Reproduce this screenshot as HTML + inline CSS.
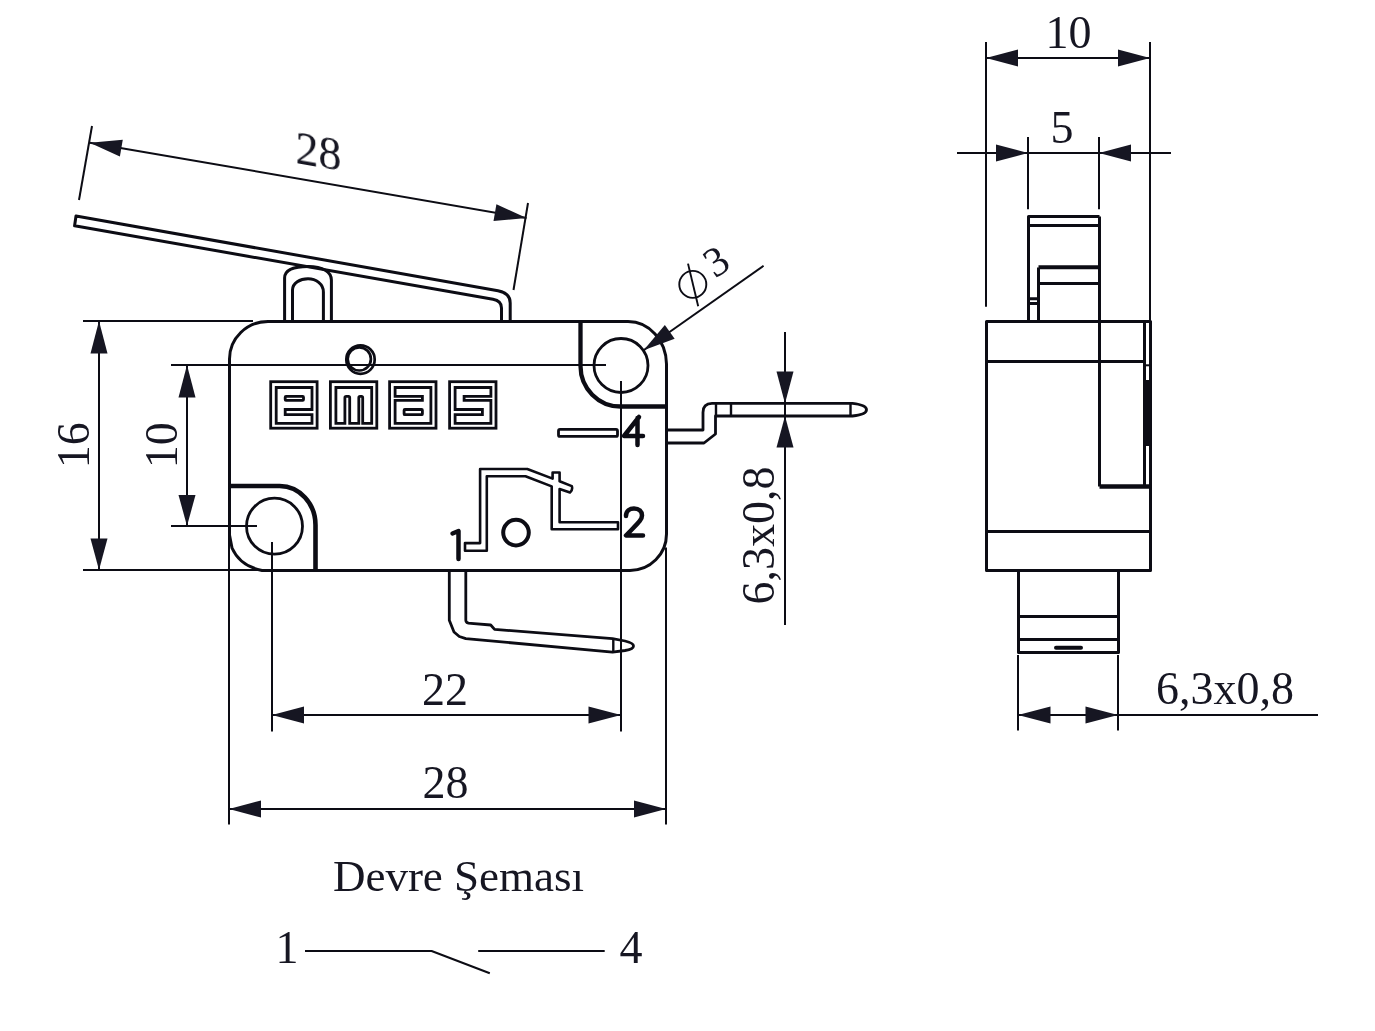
<!DOCTYPE html>
<html><head><meta charset="utf-8">
<style>
html,body{margin:0;padding:0;background:#fff;overflow:hidden;}
svg{display:block;}
</style></head><body>
<svg width="1375" height="1031" viewBox="0 0 1375 1031">
<rect width="1375" height="1031" fill="#fff"/>
<g fill="none" stroke="#0c0c14" stroke-linejoin="round">
<g stroke-width="3">
<path d="M268 321.5 L628 321.5 A38.5 43 0 0 1 666.5 364 L666.5 534 A36.5 36.5 0 0 1 630 570.5 L262 570.5 Q240 566 232 548 L229.5 535 L229.5 359 A38.5 37.5 0 0 1 268 321.5 Z"/>
<circle cx="621" cy="365.5" r="27" stroke-width="2.8"/>
<circle cx="274.5" cy="526.2" r="28" stroke-width="2.8"/>
<circle cx="359.3" cy="358.9" r="11.6" stroke-width="2.7"/><circle cx="360.5" cy="359.6" r="14.2" stroke-width="2.7"/>
<path d="M580.5 321.5 L580.5 366 A40 40.5 0 0 0 620.5 406.5 L666.5 406.5" stroke-width="4.3"/>
<path d="M229.5 486 L279.7 486 A36 39 0 0 1 315.5 525 L315.5 570.5" stroke-width="4.6"/>
<path d="M284.6 321.5 V278 C284.6 270 293 266.5 308 266.5 C323 266.5 331.4 272 331.4 280 V321.5"/>
<path d="M292.5 321.5 V290 C292.5 283 300 278.7 308 278.7 C316 278.7 323.4 284 323.4 292 V321.5"/>
<path d="M510.2 321.5 V303 Q510.2 292.9 498 290.7 L76 216 L74.6 225.8 L493 299.3 Q501.5 300.8 501.5 308 V321.5"/>
<path d="M666.5 430 L703 430 L703 412.5 Q703 403.4 712 403.4 L852.5 403.4 Q866.5 405 866.5 409.7 Q866.5 414.5 852.5 416 L715.5 416 L715.5 434 L704 443 L666.5 443" stroke-width="2.8"/>
<path d="M716 403.4 V416 M731 403.4 V416 M850.5 403.4 V416" stroke-width="2.4"/>
<path d="M449.3 570.5 V620.2 L454 632 L459.3 636.5 L465.8 638.6 L612.5 652.2 L625 650.5 Q633.5 649 633.5 645.9 Q633.5 643 625 641 L612.5 638.6 L494.6 629.4 L490.7 625 L471 623.4 Q465.8 623.4 465.8 620.2 V570.5" stroke-width="2.8"/>
<path d="M613.3 638.6 V652.2" stroke-width="2.4"/>
<g stroke-width="2.8" stroke-linejoin="miter">
<g transform="translate(270.7 381.7)"><rect x="0" y="0" width="46.4" height="46.5"/><path d="M41.3 5.8 H5.5 V41.7 H41.3 V33 H14.5 V27.8 H41.3 Z"/><rect x="14.5" y="14.7" width="18.3" height="3.9" rx="0.8"/></g>
<g transform="translate(330.4 381.7)"><rect x="0" y="0" width="46.4" height="46.5"/><path d="M5.5 5.8 H41.3 V41.7 H32.3 V16 Q32.3 14.7 31 14.7 H29.7 Q28.4 14.7 28.4 16 V41.7 H19.3 V16 Q19.3 14.7 18 14.7 H15.8 Q14.5 14.7 14.5 16 V41.7 H5.5 Z"/></g>
<g transform="translate(389.6 381.7)"><rect x="0" y="0" width="46.4" height="46.5"/><path d="M5.5 5.8 H41.3 V41.7 H5.5 V18.6 H32.8 V14.7 H5.5 Z"/><rect x="14.5" y="27.8" width="18.3" height="5.2" rx="0.8"/></g>
<g transform="translate(449.6 381.7)"><rect x="0" y="0" width="46.4" height="46.5"/><path d="M5.5 5.8 H41.3 V14.7 H14.5 V18.6 H41.3 V41.7 H5.5 V33 H32.8 V27.8 H5.5 Z"/></g>
</g>
<rect x="558.5" y="429.4" width="59" height="7" rx="1.5" stroke-width="2.8"/>
<path d="M465 543.1 L480.1 543.1 L480.1 469 L527.3 469 L552.6 478.6 L552.6 472.5 L559.6 472.5 L559.6 481.2 L571.8 486.1 Q573 490 570 492.5 L559.6 489 L559.6 522.2 L618 522.2 L618 529.2 L551.7 529.2 L551.7 486.4 L525.5 476.3 L486.8 476.3 L486.8 550.7 L465 550.7 Z" stroke-width="2.6"/>
<circle cx="516" cy="532.6" r="12.8" stroke-width="4"/>
<g stroke-width="4.5" stroke-linecap="round">
<path d="M452.5 533.5 L458.5 531 L458.5 559"/>
<path d="M626 516 C626 510.5 630 508.5 634 508.5 C639 508.5 642 511.5 642 515.5 C642 520 638 523 626 535.5 L643 535.5"/>
<path d="M639 417 L624 436 L643 436 M637.5 418 L637.5 445"/>
</g>
</g>
<g stroke-width="3">
<path d="M986.5 321.5 H1150.5 V570.5 H986.5 Z"/>
<path d="M986.5 361.5 H1144.5 M986.5 531.5 H1150.5 M1144.5 321.5 V486.5 M1150.5 321.5 V470"/>
<path d="M1099.5 216.5 V486.5"/>
<path d="M1099.5 486.5 H1150.5" stroke-width="4.5"/>
<path d="M1144.5 365.3 H1150.5" stroke-width="2"/>
<rect x="1144.5" y="380" width="5.5" height="66" fill="#0c0c14" stroke="none"/>
<path d="M1028.5 321.5 V216.5 H1099.5 M1028.5 225.5 H1099.5 M1038.5 321.5 V267.5 M1038.5 283.5 H1099.5 M1028.5 298.8 H1038.5 M1028.5 303.6 H1038.5"/>
<path d="M1038.5 267.3 H1099.5" stroke-width="4"/>
<path d="M1018.5 570.5 V652.5 H1118.5 V570.5 M1018.5 616.5 H1118.5 M1018.5 639.5 H1118.5"/>
<path d="M1056 647.8 H1081" stroke-width="4" stroke-linecap="round"/>
</g>
<g stroke-width="2">
<path d="M92 126 L79 200"/>
<path d="M528 203 L513.5 290"/>
<path d="M89.8 142.7 L526.5 218"/>
<path d="M83 321 L253 321"/>
<path d="M83 570 L262 570"/>
<path d="M99 321 L99 570"/>
<path d="M171 365 L606 365"/>
<path d="M171 526 L257 526"/>
<path d="M187 365 L187 526"/>
<path d="M272 542 L272 731.5"/>
<path d="M621 381 L621 731.5"/>
<path d="M272 715 L621 715"/>
<path d="M229 500 L229 824.5"/>
<path d="M666 547.5 L666 824.5"/>
<path d="M229 809 L666 809"/>
<path d="M785 332 L785 625"/>
<path d="M763.6 265.7 L643.6 350.3"/>
<path d="M986 42 L986 306.8"/>
<path d="M1150 42 L1150 321"/>
<path d="M986 58 L1150 58"/>
<path d="M1028 137 L1028 209.2"/>
<path d="M1099 137 L1099 209.2"/>
<path d="M957 153 L1171 153"/>
<path d="M1018 655 L1018 730.6"/>
<path d="M1118 655 L1118 730.6"/>
<path d="M1018 715 L1318 715"/>
<path d="M305 951 L431.6 951 L489.8 973.2"/>
<path d="M478.2 951 L604.7 951"/>
<circle cx="692.8" cy="284.4" r="13.5" stroke-width="1.9"/>
<path d="M688 263.6 L698.2 306.3" stroke-width="1.9"/>
</g>
</g>
<g fill="#161622" stroke="none">
<path d="M89.8 142.7 L119.89 156.51 L122.78 139.76 Z"/>
<path d="M526.5 218 L496.41 204.19 L493.52 220.94 Z"/>
<path d="M99 321 L90.5 353.5 L107.5 353.5 Z"/>
<path d="M99 570 L107.5 538.6 L90.5 538.6 Z"/>
<path d="M187 365 L178.5 397.5 L195.5 397.5 Z"/>
<path d="M187 526 L195.5 495 L178.5 495 Z"/>
<path d="M272 715 L304 723.5 L304 706.5 Z"/>
<path d="M621 715 L588.5 706.5 L588.5 723.5 Z"/>
<path d="M229 809 L261 817.5 L261 800.5 Z"/>
<path d="M666 809 L634 800.5 L634 817.5 Z"/>
<path d="M785 403.4 L793.5 371.5 L776.5 371.5 Z"/>
<path d="M785 416 L776.5 447.4 L793.5 447.4 Z"/>
<path d="M643.6 350.3 L674.65 338.81 L664.86 324.91 Z"/>
<path d="M986 58 L1018 66.5 L1018 49.5 Z"/>
<path d="M1150 58 L1118 49.5 L1118 66.5 Z"/>
<path d="M1028 153 L996 144.5 L996 161.5 Z"/>
<path d="M1099 153 L1131 161.5 L1131 144.5 Z"/>
<path d="M1018 715 L1050.5 723.5 L1050.5 706.5 Z"/>
<path d="M1118 715 L1085.5 706.5 L1085.5 723.5 Z"/>
</g>
<g fill="#161622" stroke="none" font-family="Liberation Serif" font-size="46" opacity="0.999">
<text x="445" y="704.5" text-anchor="middle">22</text>
<text x="445.5" y="798" text-anchor="middle">28</text>
<text x="1068.5" y="48" text-anchor="middle">10</text>
<text x="1062" y="143" text-anchor="middle">5</text>
<text x="1225" y="704" text-anchor="middle">6,3x0,8</text>
<text transform="translate(318.5 167) skewY(10)" text-anchor="middle">28</text>
<text transform="translate(88.5 445.3) rotate(-90)" text-anchor="middle">16</text>
<text transform="translate(176.5 445.3) rotate(-90)" text-anchor="middle">10</text>
<text transform="translate(774 535.5) rotate(-90)" text-anchor="middle">6,3x0,8</text>
<text transform="translate(723.8 273) rotate(-33)" text-anchor="middle" font-size="42">3</text>
<text x="458.5" y="891" text-anchor="middle" font-size="45">Devre Şeması</text>
<text x="287" y="963" text-anchor="middle">1</text>
<text x="631" y="963" text-anchor="middle">4</text>
</g>
</svg>
</body></html>
